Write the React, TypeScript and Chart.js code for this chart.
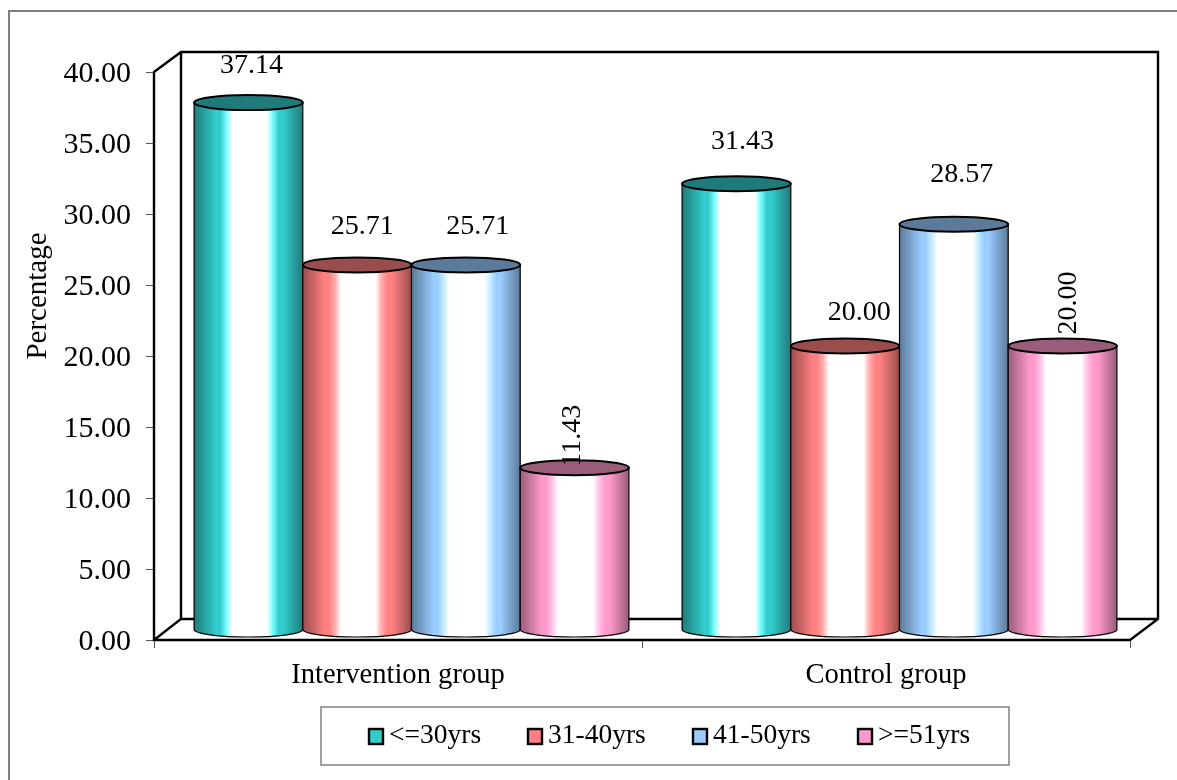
import React, { useEffect, useRef } from "react";
import { Chart, registerables } from "chart.js";

Chart.register(...registerables);

const groups = ["Intervention group", "Control group"];
const ageBands = ["<=30yrs", "31-40yrs", "41-50yrs", ">=51yrs"];
const youngest = [37.14, 31.43];
const thirties = [25.71, 20.0];
const forties = [25.71, 28.57];
const oldest = [11.43, 20.0];
const yTicks = [0, 5, 10, 15, 20, 25, 30, 35, 40];
const yTitle = "Percentage";

const baseColors = ["#33CCCC", "#FF8080", "#99CCFF", "#FF99CC"];
const edgeColors = ["#1F7A7A", "#994D4D", "#5C7A99", "#995C7A"];
const glowColors = ["#7FFFFF", "#FFB0B0", "#C8EEFF", "#FFC8E8"];

const FONT = '"Liberation Serif", "Times New Roman", serif';
const DEPTH_X = 27;
const DEPTH_Y = 20;
const RADIUS_Y = 7.5;

// Nudges for each value label: [dx, dy from the cylinder top, rotation in degrees]
const labelPlacement = [
  [[3, -37, 0], [6, -42, 0]],
  [[5, -38, 0], [14, -33, 0]],
  [[12, -38, 0], [8, -50, 0]],
  [[-2, -32, -90], [6, -43, -90]],
];

function drawFrame(chart: any) {
  const { ctx, chartArea: a } = chart;
  const { left: l, right: r, top: t, bottom: b } = a;
  ctx.save();
  // Outer chart border
  ctx.strokeStyle = "#808080";
  ctx.lineWidth = 2;
  ctx.beginPath();
  ctx.moveTo(9, 780);
  ctx.lineTo(9, 11);
  ctx.lineTo(1177, 11);
  ctx.stroke();
  // Back wall, floor and side wall
  ctx.strokeStyle = "#000";
  ctx.lineWidth = 2.4;
  ctx.lineJoin = "miter";
  ctx.beginPath();
  ctx.moveTo(l, t);
  ctx.lineTo(l + DEPTH_X, t - DEPTH_Y);
  ctx.lineTo(r + DEPTH_X + 1, t - DEPTH_Y);
  ctx.lineTo(r + DEPTH_X + 1, b - DEPTH_Y - 1);
  ctx.lineTo(r, b);
  ctx.lineTo(l, b);
  ctx.closePath();
  ctx.moveTo(l + DEPTH_X, t - DEPTH_Y);
  ctx.lineTo(l + DEPTH_X, b - DEPTH_Y - 1);
  ctx.lineTo(l, b);
  ctx.moveTo(l + DEPTH_X, b - DEPTH_Y - 1);
  ctx.lineTo(r + DEPTH_X + 1, b - DEPTH_Y - 1);
  ctx.stroke();
  ctx.restore();
}

function drawCylinder(ctx: CanvasRenderingContext2D, bar: any, series: number) {
  const cx = bar.x + DEPTH_X / 2;
  const top = bar.y - DEPTH_Y / 2;
  const bottom = bar.base - DEPTH_Y / 2;
  const rx = bar.width / 2;
  const x0 = cx - rx;
  const x1 = cx + rx;

  const g = ctx.createLinearGradient(x0, 0, x1, 0);
  g.addColorStop(0, edgeColors[series]);
  g.addColorStop(0.2, baseColors[series]);
  g.addColorStop(0.24, baseColors[series]);
  g.addColorStop(0.3, glowColors[series]);
  g.addColorStop(0.35, "#FFFFFF");
  g.addColorStop(0.67, "#FFFFFF");
  g.addColorStop(0.72, glowColors[series]);
  g.addColorStop(0.78, baseColors[series]);
  g.addColorStop(0.82, baseColors[series]);
  g.addColorStop(1, edgeColors[series]);

  ctx.save();
  ctx.beginPath();
  ctx.moveTo(x0, top);
  ctx.lineTo(x0, bottom);
  ctx.ellipse(cx, bottom, rx, RADIUS_Y, 0, Math.PI, 0, true);
  ctx.lineTo(x1, top);
  ctx.closePath();
  ctx.fillStyle = g;
  ctx.fill();
  ctx.strokeStyle = "#000";
  ctx.lineWidth = 1.2;
  ctx.stroke();

  ctx.beginPath();
  ctx.ellipse(cx, top, rx, RADIUS_Y, 0, 0, Math.PI * 2);
  ctx.fillStyle = edgeColors[series];
  ctx.fill();
  ctx.lineWidth = 2;
  ctx.stroke();
  ctx.restore();
}

function drawValueLabels(chart: any) {
  const { ctx } = chart;
  ctx.save();
  ctx.fillStyle = "#000";
  ctx.font = `28px ${FONT}`;
  ctx.textAlign = "center";
  ctx.textBaseline = "middle";
  chart.data.datasets.forEach((ds: any, s: number) => {
    chart.getDatasetMeta(s).data.forEach((bar: any, i: number) => {
      const [dx, dy, rot] = labelPlacement[s][i];
      ctx.save();
      ctx.translate(bar.x + DEPTH_X / 2 + dx, bar.y - DEPTH_Y / 2 + dy);
      ctx.rotate((rot * Math.PI) / 180);
      ctx.fillText(ds.data[i].toFixed(2), 0, 0);
      ctx.restore();
    });
  });
  ctx.restore();
}

function drawAxisTitle(chart: any) {
  const { ctx } = chart;
  ctx.save();
  ctx.translate(38, 296);
  ctx.rotate(-Math.PI / 2);
  ctx.fillStyle = "#000";
  ctx.font = `29px ${FONT}`;
  ctx.textAlign = "center";
  ctx.textBaseline = "middle";
  ctx.fillText(yTitle, 0, 0);
  ctx.restore();
}

function drawLegendBox(chart: any) {
  const { ctx } = chart;
  ctx.save();
  ctx.fillStyle = "#FFFFFF";
  ctx.strokeStyle = "#808080";
  ctx.lineWidth = 1.5;
  ctx.fillRect(321, 707, 688, 58);
  ctx.strokeRect(321, 707, 688, 58);
  const swatchX = [369, 528, 693, 858];
  ctx.font = `27.5px ${FONT}`;
  ctx.textAlign = "left";
  ctx.textBaseline = "middle";
  chart.data.datasets.forEach((ds: any, s: number) => {
    ctx.fillStyle = baseColors[s];
    ctx.strokeStyle = "#000";
    ctx.lineWidth = 2.4;
    ctx.fillRect(swatchX[s], 729, 14, 15);
    ctx.strokeRect(swatchX[s], 729, 14, 15);
    ctx.fillStyle = "#000";
    ctx.fillText(ds.label, swatchX[s] + 20, 736);
  });
  ctx.restore();
}

const cylinderPlugin = {
  id: "cylinders",
  beforeDatasetsDraw(chart: any) {
    drawFrame(chart);
    chart.data.datasets.forEach((_: any, s: number) => {
      chart.getDatasetMeta(s).data.forEach((bar: any) => drawCylinder(chart.ctx, bar, s));
    });
  },
  // The cylinders replace the flat rectangles
  beforeDatasetDraw() {
    return false;
  },
  afterDatasetsDraw(chart: any) {
    drawValueLabels(chart);
    drawAxisTitle(chart);
    drawLegendBox(chart);
  },
};

export default function App() {
  const canvasRef = useRef<HTMLCanvasElement>(null);

  useEffect(() => {
    const series = [youngest, thirties, forties, oldest];
    const chart = new Chart(canvasRef.current!, {
      type: "bar",
      data: {
        labels: groups,
        datasets: ageBands.map((label, s) => ({
          label,
          data: series[s],
          backgroundColor: baseColors[s],
          categoryPercentage: 0.891,
          barPercentage: 1,
        })),
      },
      options: {
        responsive: false,
        animation: false,
        layout: { padding: { left: 0, top: 72, right: 47, bottom: 80 } },
        plugins: { legend: { display: false }, tooltip: { enabled: false } },
        scales: {
          x: {
            afterFit: (s: any) => {
              s.height = 60;
            },
            border: { display: false },
            grid: { drawOnChartArea: false, drawTicks: true, tickLength: 8, color: "#555", lineWidth: 1 },
            ticks: { color: "#000", font: { family: FONT, size: 28.6 }, padding: 10, maxRotation: 0 },
          },
          y: {
            min: 0,
            max: 40,
            afterFit: (s: any) => {
              s.width = 154;
            },
            afterBuildTicks: (s: any) => {
              s.ticks = yTicks.map((value) => ({ value }));
            },
            border: { display: false },
            grid: { drawOnChartArea: false, drawTicks: true, tickLength: 8, color: "#555", lineWidth: 1 },
            ticks: {
              color: "#000",
              font: { family: FONT, size: 30 },
              padding: 15,
              labelOffset: 2,
              callback: (v: any) => Number(v).toFixed(2),
            },
          },
        },
      },
      plugins: [cylinderPlugin],
    } as any);
    return () => chart.destroy();
  }, []);

  return (
    <div style={{ position: "absolute", left: 0, top: 0, background: "#fff" }}>
      <canvas ref={canvasRef} width={1177} height={780} style={{ display: "block" }} />
    </div>
  );
}
